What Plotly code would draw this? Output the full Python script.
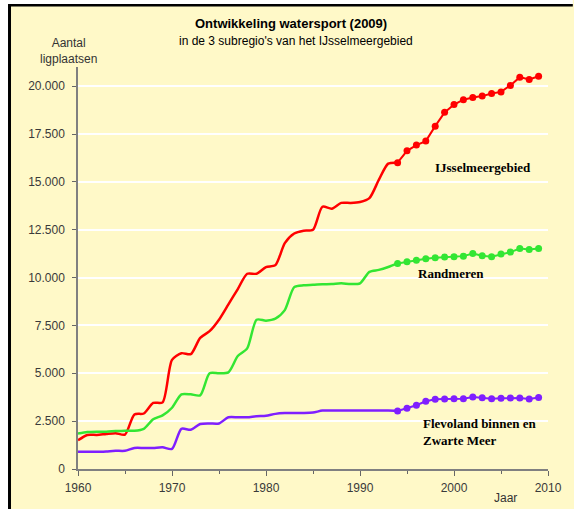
import plotly.graph_objects as go

# ---- data ----
years_hist = list(range(1960, 1995))
years_recent = list(range(1994, 2010))

ijssel_hist = [1500, 1780, 1780, 1830, 1870, 1800, 2850, 2900, 3450, 3480,
               5700, 6050, 6000, 6850, 7200, 7800, 8600, 9400, 10200, 10200,
               10550, 10650, 11800, 12300, 12450, 12500, 13700, 13600, 13900, 13900,
               13950, 14150, 15100, 15950, 16000]
ijssel_recent = [16000, 16620, 16920, 17130, 17910, 18630, 19040, 19290, 19410, 19480,
                 19620, 19700, 20040, 20470, 20350, 20520]

rand_hist = [1850, 1930, 1950, 1950, 1980, 2000, 2000, 2100, 2600, 2800,
             3200, 3900, 3900, 3850, 5000, 5000, 5050, 5900, 6300, 7800,
             7750, 7850, 8300, 9500, 9600, 9620, 9650, 9660, 9700, 9660,
             9700, 10300, 10400, 10550, 10740]
rand_recent = [10740, 10830, 10900, 10980, 11030, 11070, 11090, 11120, 11260, 11140,
               11090, 11230, 11330, 11520, 11470, 11520]

flevo_hist = [900, 900, 900, 920, 950, 950, 1100, 1100, 1100, 1130,
              1050, 2100, 2050, 2350, 2380, 2380, 2700, 2700, 2700, 2760,
              2780, 2880, 2920, 2930, 2930, 2950, 3050, 3050, 3050, 3050,
              3050, 3050, 3050, 3050, 3030]
flevo_recent = [3030, 3170, 3330, 3540, 3640, 3660, 3670, 3670, 3760, 3720,
                3670, 3690, 3710, 3710, 3660, 3740]

series = [
    ("IJsselmeergebied", ijssel_hist, ijssel_recent, "#FF0000"),
    ("Randmeren", rand_hist, rand_recent, "#33E633"),
    ("Flevoland binnen en Zwarte Meer", flevo_hist, flevo_recent, "#7F1FFF"),
]

y_ticks = [0, 2500, 5000, 7500, 10000, 12500, 15000, 17500, 20000]
x_ticks = [1960, 1970, 1980, 1990, 2000, 2010]

BG = "#FFF9C8"

fig = go.Figure()
for name, hist, recent, col in series:
    fig.add_trace(go.Scatter(x=years_hist, y=hist, mode="lines",
                             line=dict(color=col, width=2.5, shape="spline", smoothing=0.7),
                             name=name, showlegend=False, hoverinfo="x+y"))
    fig.add_trace(go.Scatter(x=years_recent, y=recent, mode="lines+markers",
                             line=dict(color=col, width=2),
                             marker=dict(color=col, size=7),
                             name=name, showlegend=False, hoverinfo="x+y"))

# plot area in pixels
L, R, T, B = 77.5, 23, 67, 40
W, H = 574, 509
pw, ph = W - L - R, H - T - B

def px_x(px):
    return (px - L) / pw

def px_y(py):
    return (H - B - py) / ph

font_ax = dict(family="Liberation Sans, Arial, sans-serif", size=12, color="#3a3a3a")

fig.update_layout(
    width=W, height=H,
    margin=dict(l=L, r=R, t=T, b=B, pad=0),
    paper_bgcolor=BG, plot_bgcolor=BG,
    separators=",.",
    font=font_ax,
    xaxis=dict(range=[1960, 2010], tickvals=x_ticks, ticks="outside", ticklen=5,
               tickcolor="#666666", showline=True, linecolor="#808080", linewidth=1.5,
               showgrid=False, zeroline=False, tickfont=font_ax, ticklabelstandoff=2,
               minor=dict(dtick=5, tick0=1960, ticks="outside", ticklen=3,
                          tickcolor="#666666", showgrid=False)),
    yaxis=dict(range=[0, 21000], tickvals=y_ticks, tickformat=",d", ticks="outside",
               ticklen=4, tickcolor="#666666", showline=True, linecolor="#808080",
               linewidth=1.5, showgrid=True, gridcolor="#FFFFFF", gridwidth=1.5,
               zeroline=False, tickfont=font_ax, ticklabelstandoff=5),
)

ann = []
ann.append(dict(text="<b>Ontwikkeling watersport (2009)</b>", x=px_x(292), y=px_y(23),
                font=dict(family="Liberation Sans, Arial", size=13, color="#000000")))
ann.append(dict(text="in de 3 subregio's van het IJsselmeergebied", x=px_x(297), y=px_y(41),
                font=dict(family="Liberation Sans, Arial", size=12, color="#000000")))
ann.append(dict(text="Aantal<br>ligplaatsen", x=px_x(68), y=px_y(51),
                font=dict(family="Liberation Sans, Arial", size=12, color="#333333")))
ann.append(dict(text="Jaar", x=px_x(508), y=px_y(498),
                font=dict(family="Liberation Sans, Arial", size=12, color="#333333")))
serif = dict(family="Liberation Serif, Times New Roman, serif", size=13, color="#000000")
ann.append(dict(text="<b>IJsselmeergebied</b>", x=px_x(486), y=px_y(167), font=serif))
ann.append(dict(text="<b>Randmeren</b>", x=px_x(453), y=px_y(273), font=serif))
ann.append(dict(text="<b>Flevoland binnen en<br>Zwarte Meer</b>", x=px_x(423), y=px_y(432),
                font=serif, xanchor="left", align="left"))
for a in ann:
    a.setdefault("xanchor", "center")
    a.update(xref="paper", yref="paper", yanchor="middle", showarrow=False)
fig.update_layout(annotations=ann)

shapes = [
    dict(type="rect", xref="paper", yref="paper", x0=px_x(-2), x1=px_x(7), y0=px_y(W), y1=px_y(-2),
         fillcolor="#FFFFFF", line=dict(width=0), layer="above"),
    dict(type="rect", xref="paper", yref="paper", x0=px_x(-2), x1=px_x(W + 2), y0=px_y(4), y1=px_y(-2),
         fillcolor="#FFFFFF", line=dict(width=0), layer="above"),
    dict(type="line", xref="paper", yref="paper", x0=px_x(8.5), x1=px_x(8.5), y0=px_y(5), y1=px_y(H + 2),
         line=dict(color="#000000", width=3), layer="above"),
    dict(type="line", xref="paper", yref="paper", x0=px_x(7), x1=px_x(W + 2), y0=px_y(5.3), y1=px_y(5.3),
         line=dict(color="#000000", width=2.6), layer="above"),
]
fig.update_layout(shapes=shapes)

fig.write_html("out.html",
               config={"displayModeBar": False},
               post_script="document.body.style.margin='0';document.body.style.overflow='hidden';")
